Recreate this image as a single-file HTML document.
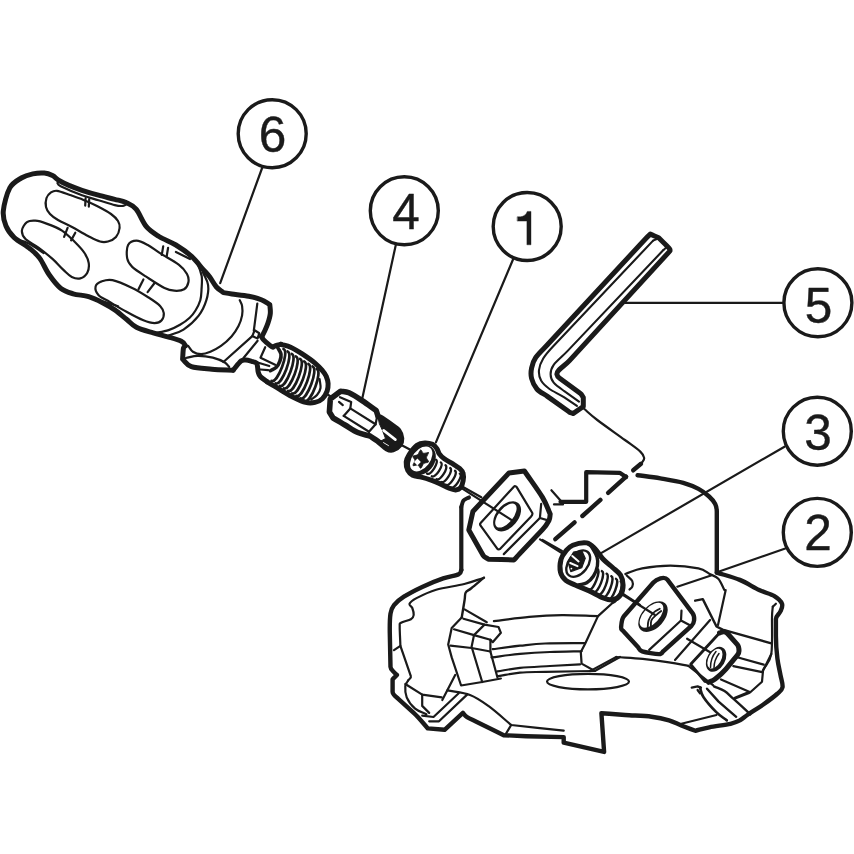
<!DOCTYPE html>
<html><head><meta charset="utf-8"><style>
html,body{margin:0;padding:0;background:#fff;width:854px;height:854px;overflow:hidden}
svg{display:block}
</style></head><body>
<svg width="854" height="854" viewBox="0 0 854 854">
<g fill="none" stroke="#1a1a1a" stroke-linecap="round" stroke-linejoin="round">
<circle cx="272.2" cy="133.7" r="34" stroke-width="3.4"/>
<circle cx="404.3" cy="210.8" r="34" stroke-width="3.4"/>
<circle cx="527.2" cy="226.5" r="34" stroke-width="3.4"/>
<circle cx="817.9" cy="302.8" r="34" stroke-width="3.4"/>
<circle cx="817.3" cy="431.2" r="34" stroke-width="3.4"/>
<circle cx="817.3" cy="532.4" r="34" stroke-width="3.4"/>
<text x="272.6" y="152.4" font-family="Liberation Sans" font-size="49.5" text-anchor="middle" fill="#1a1a1a" stroke="#1a1a1a" stroke-width="0.4">6</text>
<text x="406" y="229.1" font-family="Liberation Sans" font-size="49.5" text-anchor="middle" fill="#1a1a1a" stroke="#1a1a1a" stroke-width="0.4">4</text>
<text x="818.4" y="322.6" font-family="Liberation Sans" font-size="49.5" text-anchor="middle" fill="#1a1a1a" stroke="#1a1a1a" stroke-width="0.4">5</text>
<text x="817.9" y="449.5" font-family="Liberation Sans" font-size="49.5" text-anchor="middle" fill="#1a1a1a" stroke="#1a1a1a" stroke-width="0.4">3</text>
<text x="817.9" y="550.1" font-family="Liberation Sans" font-size="49.5" text-anchor="middle" fill="#1a1a1a" stroke="#1a1a1a" stroke-width="0.4">2</text>
<path d="M517.5,216.8 L520.5,216.8 Q525.5,216.2 527.3,211.4 L531,211.4 L531,244.8 L526.9,244.8 L526.9,221.1 L517.5,221.1 Z" fill="#1a1a1a" stroke="#1a1a1a" stroke-width="0.4"/>
<path d="M262.3,167.5 L220.2,283.2" stroke-width="2.2" fill="none"/>
<path d="M395.9,244.5 L362.2,398.7" stroke-width="2.2" fill="none"/>
<path d="M513,259.5 L435.9,442.4" stroke-width="2.2" fill="none"/>
<path d="M784.1,302.9 L625.4,302.9" stroke-width="2.2" fill="none"/>
<path d="M784.5,446.7 L598.5,554.6" stroke-width="2.2" fill="none"/>
<path d="M786.7,548 L717.7,572" stroke-width="2.2" fill="none"/>
<path d="M233.2,370.2C226.1,369.9 218.9,369.8 211.9,369.2C204.9,368.6 196.3,368.4 191.4,366.7C186.5,365 185.5,361.7 182.6,359.2C182.9,355.5 183,350.3 183.5,348C184,345.7 185.9,346.6 185.5,345.5C185.1,344.4 184.1,342.7 181.3,341.3C178.5,339.9 173.4,338.5 168.7,337.1C164,335.7 158.6,334.5 153.2,332.9C147.8,331.3 140.8,329.6 136.4,327.3C132,325 130.1,322.2 126.5,319.3C122.9,316.4 118.7,312.6 114.8,309.9C110.9,307.2 107.3,305.1 103,302.9C98.7,300.7 93.7,298.1 88.7,296.6C83.7,295.1 77.9,295.2 73.2,293.8C68.5,292.4 64.6,291.4 60.6,288.2C56.6,285 52.7,279.8 49.2,274.8C45.7,269.8 42.9,262.7 39.8,258.4C36.7,254.1 34.7,252.5 30.4,249C26.1,245.5 18.1,241.1 14,237.3C9.9,233.5 7.8,230.4 6,226C4.2,221.6 2.7,217.3 3.3,211C3.9,204.7 6.8,193.4 9.8,187.9C12.8,182.4 17.5,180.3 21.3,178C25.1,175.7 29,174.7 32.8,173.9C36.6,173.1 41,172.8 44.3,173.1C47.6,173.4 50,174.4 52.5,175.6C55,176.8 56.3,178.9 59,180.5C61.7,182.1 65.1,183.8 68.9,185.4C72.7,187 77.1,188.7 82,190.3C86.9,191.9 92.9,193.7 98.4,195.2C103.9,196.7 110.2,198.1 114.8,199.3C119.4,200.5 122.7,200.9 126.2,202.6C129.8,204.2 132.7,205.2 136.1,209.2C139.5,213.2 142.6,222.1 146.4,226.7C150.2,231.2 154.1,233.4 159,236.5C163.9,239.6 170.5,241.7 175.9,245C181.3,248.3 186.9,252.2 191.3,256.2C195.8,260.2 199.6,265.4 202.6,268.8C205.6,272.2 207.3,273.8 209.6,276.8C211.9,279.8 214.1,284.4 216.4,287C218.7,289.6 221.1,290.7 223.4,292.6C226.2,293.1 227.6,293.4 231.8,294C236,294.6 243.8,295.2 248.7,296.2C253.6,297.1 257.8,298.3 261.3,299.7C264.8,301.1 267,303 269.8,304.6C270,307.5 270.6,310.2 270.3,313.4C270,316.6 268.8,320.5 267.8,323.6C266.8,326.7 265.3,329.6 264.3,331.8C263.3,334 262.6,335.1 261.7,336.7" stroke-width="5" fill="none"/>
<path d="M57.4,183C58.5,184.1 56.6,184.2 60.7,186.2C64.8,188.2 75.7,192.9 82,195.2C88.3,197.5 92.9,198.5 98.4,200.2C103.9,201.8 110.7,204.1 114.8,205.1C118.9,206.1 121,206.1 123,205.9C125,205.7 125.7,204.6 127,204" stroke-width="2.2" fill="none"/>
<path d="M175.9,252C180.6,254.3 185.3,256.7 190,259" stroke-width="2.2" fill="none"/>
<path d="M50.7,192.6C52.5,191.4 53.8,190.4 57,190.8C60.2,191.2 65.7,193.5 70,195C74.3,196.5 78.5,197.9 83,199.7C87.5,201.5 92.3,203.6 97,206C101.7,208.4 107.5,211.5 111,214C114.5,216.5 116.6,218.7 118,221C119.4,223.3 119.9,225.3 119.6,228C119.3,230.7 117.9,234.8 116,237C114.1,239.2 110.7,240.8 108,241.5C105.3,242.2 103.3,242.4 100,241.5C96.7,240.6 92.7,238.4 88,236C83.3,233.6 77,229.7 72,227C67,224.3 61.7,222.2 58,220C54.3,217.8 52,216.2 50,214C48,211.8 46.6,209.7 46,207C45.4,204.3 45.7,200.4 46.5,198C47.3,195.6 49,193.8 50.7,192.6Z" stroke-width="2.2" fill="none"/>
<path d="M26.9,222.2C29.1,220.5 32,220.5 35.3,220.7C38.6,220.9 42,221.9 46.5,223.6C51,225.2 57.3,227.6 62,230.6C66.7,233.6 70.8,238.1 74.6,241.8C78.3,245.5 82.2,249.5 84.5,253C86.8,256.5 88.2,259.6 88.7,262.9C89.2,266.2 88.7,270.1 87.3,272.7C85.9,275.3 82.9,277.7 80.3,278.4C77.7,279.1 74.6,278.4 71.8,277C69,275.6 66.7,272.9 63.4,269.9C60.1,266.8 56.4,262.4 52.2,258.7C48,254.9 42.6,250.7 38.1,247.4C33.6,244.1 28.2,241.8 25.5,239C22.8,236.2 21.7,233.4 21.9,230.6C22.1,227.8 24.7,223.8 26.9,222.2Z" stroke-width="2.2" fill="none"/>
<path d="M128.1,245C129.7,242.1 133.2,240.7 136.5,240.7C139.8,240.7 143.8,242.9 147.8,245C151.8,247.1 155.2,250.1 160.4,253.4C165.6,256.7 174.3,261.2 178.7,264.6C183.1,268 185.4,270.9 187,273.9C188.6,276.8 188.9,279.7 188.4,282.3C187.9,284.9 186.4,287.9 184.1,289.3C181.8,290.7 177.6,290.9 174.3,290.7C171,290.5 169.2,290.3 164.5,288C159.8,285.7 151.6,280.2 146.2,276.7C140.8,273.2 135.4,269.9 132.2,266.9C129,263.8 127.9,262 127.2,258.4C126.5,254.7 126.5,247.9 128.1,245Z" stroke-width="2.2" fill="none"/>
<path d="M95.6,286.5C96.1,284.3 98.4,282.7 101.2,281.6C104,280.6 107.3,279.1 112.5,280.2C117.7,281.3 126.1,285.1 132.2,288C138.3,290.9 144.3,294.8 149,297.8C153.7,300.8 157.8,303.6 160.3,306.2C162.8,308.8 163.6,310.8 163.8,313.2C164,315.6 163.2,318.6 161.7,320.3C160.2,322 157.6,323.1 154.6,323.1C151.6,323.1 148.1,322.2 143.4,320.3C138.7,318.4 132.1,314.9 126.5,311.8C120.9,308.8 114.4,304.8 109.7,302C105,299.2 100.8,297.6 98.4,295C96.1,292.4 95.1,288.7 95.6,286.5Z" stroke-width="2.2" fill="none"/>
<path d="M67.6,227.8 L64.1,236.9" stroke-width="2.2" fill="none"/>
<path d="M75.3,232.7 L71.1,240.4" stroke-width="2.2" fill="none"/>
<path d="M85.6,198.2 L85.2,205.6" stroke-width="2.2" fill="none"/>
<path d="M89.2,199.2 L88.8,206.6" stroke-width="2.2" fill="none"/>
<path d="M163.2,246.4 L161.8,254.8" stroke-width="2.2" fill="none"/>
<path d="M168.1,247.8 L166.7,256.2" stroke-width="2.2" fill="none"/>
<path d="M143.4,279.5 L138.5,289.3" stroke-width="2.2" fill="none"/>
<path d="M154.6,283 L147.6,292.2" stroke-width="2.2" fill="none"/>
<path d="M192,257C193.7,259 195.4,259.8 197,263C198.6,266.2 200.9,271.5 201.7,276C202.4,280.5 201.7,285.9 201.5,290C201.3,294.1 201.3,296.9 200.3,300.3C199.3,303.7 197.3,307.6 195.5,310.5C193.7,313.4 192.3,315.4 189.7,317.8C187.1,320.2 183.5,322.8 180,324.8C176.5,326.9 173.1,328.6 168.6,330.1C164.1,331.6 158.1,332.4 152.8,333.6" stroke-width="2.2" fill="none"/>
<path d="M203,272.5C204.7,276.7 207.5,280.5 208.1,285.1C208.7,289.8 207.9,295.3 206.3,300.4C204.7,305.5 202.5,310.7 198.7,315.6C194.9,320.5 188.5,326.3 183.5,329.6C178.5,332.9 173.6,333.5 168.7,335.5" stroke-width="2.2" fill="none"/>
<path d="M14,239C18.8,240.4 23.4,240.9 28.3,243.2C33.2,245.5 38.6,249.7 43.7,253" stroke-width="2.2" fill="none"/>
<path d="M92,298C96.3,299.3 100.7,300.6 105,302C109.3,303.4 113.7,304.8 118.1,306.2" stroke-width="2.2" fill="none"/>
<path d="M239.7,300.2C240.5,302.2 241.7,303.6 242.1,306.1C242.5,308.6 242.7,312.1 242.1,315.4C241.5,318.7 240.3,322.5 238.5,326C236.7,329.5 234.4,333.2 231.5,336.5C228.6,339.8 224.5,343.4 221,345.9C217.5,348.4 213.7,350.3 210.4,351.7C207.1,353.1 204,354.1 201.1,354.1C198.2,354.1 195.1,353.1 192.9,351.7C190.8,350.3 189.8,347.8 188.2,345.9" stroke-width="2.2" fill="none"/>
<path d="M257.3,303.7C256.9,306.8 256.7,308.6 256.1,313.1C255.5,317.6 254.6,324.8 253.8,330.7" stroke-width="2.2" fill="none"/>
<path d="M254.6,330.3 L259.3,333.2 L257.6,338.5 L252.3,336.1 L254.6,330.3" stroke-width="2.2" fill="none"/>
<path d="M252.3,336.1 L223.4,362" stroke-width="2.2" fill="none"/>
<path d="M257.6,340.8 L243.5,358" stroke-width="2.2" fill="none"/>
<path d="M185.8,358C189.7,357.3 193.1,355.9 197.6,355.8C202.1,355.7 208.3,356.5 212.8,357.6C217.3,358.7 221.8,360.7 224.5,362.3C227.2,363.9 227.6,365.4 229.2,367" stroke-width="2.2" fill="none"/>
<path d="M233.2,370C235.8,367 238.8,362.8 240.9,361.1C243,359.5 244.1,360.1 245.9,360.1C247.7,360.1 249.9,360.8 251.7,361.3C253.4,361.8 255.4,362.1 256.4,363.1C257.4,364.1 257.3,365.7 257.6,367.2C257.9,368.7 257.7,370.4 258.2,372C258.7,373.6 259,375.2 260.5,376.8C262,378.4 265,380.1 267.2,381.8" stroke-width="5" fill="none"/>
<path d="M261.7,336.7C262.3,337.7 262.1,338.2 263.4,339.6C264.7,341 267.7,343.6 269.3,344.9C270.9,346.2 271.6,346.4 272.8,347.2C273.8,346.7 274.4,346.1 275.8,345.6C277.2,345.1 279.3,344.7 281,344.3" stroke-width="5" fill="none"/>
<path d="M265.2,347.2 L260.5,357.8 L275.1,364.8" stroke-width="2.2" fill="none"/>
<path d="M257.6,362.5 L269.3,366" stroke-width="2.2" fill="none"/>
<path d="M260.5,369.5 L268.1,370.1" stroke-width="2.2" fill="none"/>
<path d="M281,344.3C284.2,345.3 287.1,345.6 290.6,347.2C294.1,348.8 297.7,351 301.8,353.7C305.9,356.4 311.6,360.3 315,363.1C318.4,365.9 320.5,368.4 322.4,370.6C324.3,372.8 325.2,374 326.2,376.2C327.1,378.4 328,381.2 328.1,383.7C328.2,386.2 328.1,388.7 327.1,391.2C326.2,393.7 324.4,396.8 322.4,398.7C320.4,400.6 317.8,401.8 315,402.4C312.2,403 309.1,403.2 305.6,402.4C302.2,401.6 298.4,399.8 294.3,397.8C290.2,395.8 285.7,393 281.2,390.3C276.7,387.6 271.9,384.6 267.2,381.8" stroke-width="5" fill="none"/>
<path d="M277.5,347.2C278.7,349.6 280.6,351.9 281,354.3C281.4,356.7 280.6,359.2 279.8,361.3C279,363.4 277.9,365.6 276.3,367.2C274.7,368.8 272.4,369.5 270.4,370.7" stroke-width="3.6" fill="none"/>
<path d="M283.5,349 C289.7,351.3 277.7,383.3 271.5,381" stroke-width="2.7"/>
<path d="M287.6,351.5 C293.9,353.8 281.9,385.8 275.6,383.5" stroke-width="2.7"/>
<path d="M291.8,354 C298,356.3 286,388.3 279.8,386" stroke-width="2.7"/>
<path d="M295.9,356.5 C302.2,358.8 290.2,390.8 283.9,388.5" stroke-width="2.7"/>
<path d="M300.1,359 C306.3,361.3 294.3,393.3 288.1,391" stroke-width="2.7"/>
<path d="M304.2,361.5 C310.5,363.8 298.5,395.8 292.2,393.5" stroke-width="2.7"/>
<path d="M308.4,364 C314.6,366.3 302.6,398.3 296.4,396" stroke-width="2.7"/>
<path d="M312.6,366.5 C318.8,368.8 306.8,400.8 300.6,398.5" stroke-width="2.7"/>
<path d="M316.7,369 C322.9,371.3 310.9,403.3 304.7,401" stroke-width="2.7"/>
<path d="M319.6,379C319.9,382 320.9,385.3 320.5,388C320.1,390.7 318.6,393.1 317,395C315.4,396.9 313.1,398.1 311.2,399.6" stroke-width="2.2" fill="none"/>
<path d="M327.5,394.5 L331.5,397" stroke-width="2.2" fill="none"/>
<path d="M340.6,391.2C343.4,391.7 345.4,391.2 349,392.8C352.6,394.4 358,397.9 362.5,400.9C367,403.8 371.6,407.3 376.2,410.5C376.8,412.4 377.4,414.3 378,416.2C379.8,417.2 381.4,417.9 383.5,419.3C385.6,420.7 388.1,422.4 390.6,424.3C393.1,426.2 396.7,428.1 398.5,430.5C400.3,432.9 401.3,436 401.5,438.4C401.7,440.8 400.9,443.1 399.5,445C398.1,446.9 395.1,449 393,449.6C390.9,450.2 389.6,450.1 387,448.7C384.4,447.3 380.3,443.1 377.5,441C374.7,438.9 372.5,437.7 370,436C365.9,434.8 362,434.3 357.8,432.5C353.6,430.7 349.1,427.4 345,425C340.9,422.6 337.1,420.3 333.1,418L329.4,412L330.3,399L340.6,391.2Z" stroke-width="5.6" fill="none"/>
<path d="M340,397.2 L351.2,401.9 L350.3,408.4 L343.7,415.9" stroke-width="2.2" fill="none"/>
<path d="M339,401.9 L342.8,405.1" stroke-width="2.2" fill="none"/>
<path d="M350.3,408.4 L375.6,424.3" stroke-width="2.2" fill="none"/>
<path d="M343.7,415.9 L369,431.8" stroke-width="2.2" fill="none"/>
<path d="M376.5,412.2 L376.8,418 L375.6,424.3 L369,431.8" stroke-width="2.2" fill="none"/>
<path d="M378,416 L386.3,421.4 L398,429.6 L402.2,435.4 L402.2,441.3 L398,447.2 L390.4,450.7 L384.6,447.2 L378,442.5 L385.5,438.5 L382.5,430.5 L379.5,424Z" stroke-width="1" fill="#1a1a1a"/>
<path d="M383.6,430.4 L395.4,439.6" stroke="#fff" stroke-width="2.6"/>
<path d="M383.5,442.6 L388.5,445.6" stroke="#fff" stroke-width="0.9"/>
<path d="M401.8,445.3 L411.3,450.3" stroke-width="2.2" fill="none"/>
<path d="M417,445.2C419.6,443.3 422.2,443 424.8,442.9C427.4,442.8 430.5,443.4 432.5,444.3C434.5,445.2 435.8,447 436.9,448.6C438,450.2 438.1,452.2 439.3,453.9C440.5,455.6 442.1,457.2 444.3,458.8C446.5,460.4 449.9,462.1 452.5,463.7C455.1,465.3 458,467 459.8,468.6C461.6,470.2 462.6,471.4 463.1,473.5C463.7,475.6 463.5,478.6 463.1,480.9C462.7,483.2 461.9,486 460.7,487.5C459.5,489 457.6,489.8 455.7,489.9C453.8,490 451.9,489.4 449.2,488.3C446.5,487.2 442.3,484.8 439.3,483.4C436.3,482 434.1,481.1 431.1,480.1C428.1,479.1 424.4,478 421.3,477.2C418.2,476.4 414.9,476.3 412.6,475.2C410.4,474.1 408.9,472.7 407.8,470.5C406.7,468.3 406,464.7 406.2,462C406.4,459.3 407.4,457.3 409.2,454.5C411,451.7 414.4,447.1 417,445.2Z" stroke-width="5" fill="none"/>
<ellipse cx="421" cy="459.8" rx="16.6" ry="13.4" transform="rotate(-50 421 459.8)" fill="#1a1a1a" stroke="none"/>
<ellipse cx="421.2" cy="458.9" rx="14.2" ry="8.9" transform="rotate(-52 421.2 458.9)" fill="#fff" stroke="none"/>
<path d="M428.4,452.6C428.9,453.4 426.5,456.2 426.5,457.7C426.5,459.3 429,460.9 428.5,461.9C428.1,462.8 425,462.5 423.7,463.6C422.4,464.7 421.8,468.1 420.8,468.3C419.8,468.6 419.2,465.4 417.9,465C416.5,464.5 413.5,466.3 413,465.6C412.5,464.8 414.9,462 414.9,460.5C414.9,458.9 412.4,457.3 412.9,456.3C413.3,455.4 416.4,455.7 417.7,454.6C419,453.5 419.6,450.1 420.6,449.9C421.6,449.6 422.2,452.8 423.5,453.2C424.9,453.7 427.9,451.9 428.4,452.6Z" stroke-width="0.8" fill="#1a1a1a"/>
<path d="M414,462 L417.4,458.5 L420.9,462 L417.4,465.5 Z" fill="#fff" stroke="none"/>
<path d="M436,459.6 C439.6,461.9 430.6,475.8 427,473.5" stroke-width="2.3"/>
<path d="M440.8,462.4 C444.3,464.7 435.3,478.6 431.8,476.3" stroke-width="2.3"/>
<path d="M445.5,465.2 C449.1,467.5 440.1,481.4 436.5,479.1" stroke-width="2.3"/>
<path d="M450.2,468 C453.8,470.3 444.8,484.2 441.2,481.9" stroke-width="2.3"/>
<path d="M455,470.8 C458.6,473.1 449.6,487 446,484.7" stroke-width="2.3"/>
<path d="M459.8,473.6 C463.3,475.9 454.3,489.8 450.8,487.5" stroke-width="2.3"/>
<path d="M462.6,486.7 L481.3,497.3" stroke-width="2.2" fill="none"/>
<path d="M650.3,234.1C648.7,235.6 647.1,237.1 645.6,238.7L547.4,344.8C543.5,349 538.4,353.5 535.8,357.4C533.2,361.2 532.3,364.4 531.6,367.9C530.9,371.4 530.7,375 531.6,378.5C532.5,382 534.3,386 536.9,389C539.5,392 543.9,393.9 547.4,396.4L569,411.8C570.2,412.6 571.7,413 573,413.6L583.3,406.5L583.3,397.5C582.4,396.2 581.8,394.5 580.5,393.6L560,378.5C558.6,377.5 557.1,375.7 556.9,374.3C556.7,372.9 556.9,372.3 559,370C561.1,367.7 566.3,364.1 569.5,360.6L670,250.9C669.7,250 670.9,250.3 669,248.1C667.1,245.9 662.1,241.2 658.7,237.8C655.9,236.6 653.1,235.3 650.3,234.1Z" stroke-width="5" fill="none"/>
<path d="M653.1,240.6L553.7,345.8C549.9,349.8 545.7,354.5 543.2,358.5C540.8,362.5 539.4,366.3 539,370C538.6,373.7 539.4,377.4 541.1,380.6C542.9,383.8 545.6,386.2 549.5,389C553.4,391.8 559.6,394.2 564.3,397.4L576.9,405.9" stroke-width="2.1" fill="none"/>
<path d="M663.4,250L567.4,351.1C563,355.8 556.5,360.9 553.7,364.8C550.9,368.7 550.6,371.3 550.6,374.3C550.6,377.3 551.4,379.9 553.7,382.7C556,385.5 560.6,388.5 564.3,391.1L579,401.7" stroke-width="2.1" fill="none"/>
<path d="M653.1,240.6 L658,238.5" stroke-width="2.1" fill="none"/>
<path d="M663.4,250 L667,247" stroke-width="2.1" fill="none"/>
<path d="M468.8,530C470.2,523.8 471.5,517.7 472.9,511.5L509,472.9C514.1,472.3 519.3,471.6 524.4,471C530.4,479.8 538.2,490.2 542.5,497.4C546.8,504.6 547.6,508.5 550.2,514.1C549.8,516.3 550.2,518 548.9,520.6C547.6,523.2 545,526.9 542.5,529.6L519.3,554.1C517.5,556 515.8,558 514.1,559.9C505.5,559.7 497,559.4 488.4,559.2C486.7,557.9 484.3,557.3 483.2,555.4L468.8,530Z" stroke-width="5" fill="none"/>
<path d="M480.6,523.1L514.1,486.4C514.7,485.7 516.2,486.3 516.7,487.1L532.2,512.8C532.9,514 531.8,515.7 530.9,516.7L500,548.9C499.4,549.5 497.9,549.6 497.4,548.9L480.6,525.7C480.1,525 480,523.7 480.6,523.1Z" stroke-width="2.2" fill="none"/>
<path d="M541.2,503.8 L539.9,518 L548.9,520.6" stroke-width="2.2" fill="none"/>
<path d="M539.9,518 L503.8,554.1" stroke-width="2.2" fill="none"/>
<ellipse cx="507.1" cy="516.3" rx="17.4" ry="11" transform="rotate(-50.4 507.1 516.3)" fill="#1a1a1a" stroke="none"/>
<ellipse cx="505.9" cy="515.6" rx="14.4" ry="7.1" transform="rotate(-50.4 505.9 515.6)" fill="#fff" stroke="none"/>
<path d="M460,487.1 L513.4,521.2" stroke-width="2.2" fill="none"/>
<path d="M542.5,539.9 L562,551" stroke-width="2.2" fill="none"/>
<path d="M469,497.4C467.2,498.4 464.8,498.9 463.5,500.5C462.2,502.1 462,504.8 461.3,507" stroke-width="4" fill="none"/>
<path d="M461.3,507 L461.3,570.1" stroke-width="4.2" fill="none"/>
<path d="M583.2,408C587.9,412 590.3,414.7 597.3,420C604.2,425.3 617.7,434.7 624.9,440C632.1,445.3 637.1,448.6 640.3,451.6C643.5,454.6 644,456.1 644.2,458C644.4,459.9 642.5,461.5 641.6,463.2" stroke-width="2.2" fill="none"/>
<path d="M641,463.8 L633.2,470.3" stroke-width="4.4" fill="none"/>
<path d="M626.1,476.7 L608.1,492.8" stroke-width="4.4" fill="none"/>
<path d="M600.4,499.9 L582.4,516" stroke-width="4.4" fill="none"/>
<path d="M574.6,522.4 L555.3,539.2" stroke-width="4.4" fill="none"/>
<path d="M626.1,477 L619.7,472.8 L586.2,472.2 L586.2,501.8 L560.5,501.8" stroke-width="4.2" fill="none"/>
<path d="M551.4,490.2 L560.5,500.5" stroke-width="2.2" fill="none"/>
<path d="M554,504.4 L563,504.4" stroke-width="2.2" fill="none"/>
<path d="M637.6,475.2C645.2,476.2 652.8,477 660.4,478.3C668,479.6 676.9,481 683.3,482.8C689.6,484.6 694.2,486.6 698.5,488.9C702.8,491.2 706.3,494 709.1,496.5C711.9,499 713.9,501.6 715.2,504.1C716.5,506.7 716.8,509.2 716.8,511.8L716.8,572.6" stroke-width="4.4" fill="none"/>
<path d="M572.8,545.2C576.3,543.8 583.1,542.3 586.8,542.9C590.5,543.5 592.3,546 595,548.7C597.7,551.4 600.3,556.2 603.2,559.3C606.1,562.4 609.7,564.9 612.6,567.5C615.5,570.1 618.8,572.1 620.5,575C622.2,577.9 623.1,581.8 623.1,585C623.1,588.2 622.5,592 620.8,594.5C619.1,597 615.9,599.2 613,599.8C610.1,600.4 607.2,599.4 603.2,597.9C599.2,596.4 593.9,593 589.2,590.9C584.5,588.8 579,586.8 575.1,585C571.2,583.2 568.2,582.4 565.8,580.3C563.4,578.2 561.3,575.7 560.5,572.2C559.7,568.7 560.1,562.8 561,559.3C561.9,555.8 563.8,553.5 565.8,551.1C567.8,548.8 569.3,546.6 572.8,545.2Z" stroke-width="5" fill="none"/>
<path d="M591,545.8C593,549.5 595.9,553.6 597,557C598.1,560.4 598,562.8 597.4,566C596.8,569.2 595.3,573.2 593.5,576C591.7,578.8 589.3,581.2 586.8,582.7C584.3,584.2 581.3,584.2 578.6,585" stroke-width="3.4" fill="none"/>
<ellipse cx="578.2" cy="563.6" rx="15" ry="9.6" transform="rotate(-52 578.2 563.6)" stroke-width="2.4"/>
<path d="M573.6,552 L581.7,550.6 L585.2,558.3 L581.7,567.8 L570.8,571.6 L568,561.8 Z" fill="#1a1a1a" stroke-width="1.2"/>
<path d="M572.3,556 L578.6,561.4 M570.2,563 L577.5,566.2" stroke="#fff" stroke-width="2"/>
<circle cx="571.4" cy="568.6" r="0.9" fill="#fff" stroke="none"/>
<path d="M597.2,568.6 C601.4,570.2 593.4,591.2 589.2,589.6" stroke-width="2.4"/>
<path d="M601.9,571.1 C606.1,572.8 598.1,593.8 593.9,592.1" stroke-width="2.4"/>
<path d="M606.6,573.7 C610.8,575.3 602.8,596.3 598.6,594.7" stroke-width="2.4"/>
<path d="M611.3,576.2 C615.5,577.9 607.5,598.9 603.3,597.2" stroke-width="2.4"/>
<path d="M616,578.8 C620.2,580.4 612.2,601.4 608,599.8" stroke-width="2.4"/>
<path d="M620.7,581.4 C624.9,583 616.9,604 612.7,602.4" stroke-width="2.4"/>
<path d="M540,539.4 L562.2,553.4" stroke-width="2.2" fill="none"/>
<path d="M622,593.2 L640,605" stroke-width="2.2" fill="none"/>
<path d="M621.1,627.4C621.3,625 621.4,619.1 623.9,616.2L653.4,582.5C656.5,578.9 664.5,575.9 667.4,579.7L692.7,613.4C694.1,615.3 694.3,618.3 694.1,620.4C693.9,622.5 692.9,624.6 691.3,626L663.2,651.3C661.9,652.4 662.5,654.1 659,654.1C655.5,654.1 645.7,652.5 642.2,651.3C638.7,650.1 639.3,648.6 637.9,647.1L622.5,630.3C621.8,629.5 620.9,629.8 621.1,627.4Z" stroke-width="4.4" fill="none"/>
<path d="M681.5,610.6 L681,620.5 L691.3,626" stroke-width="2.2" fill="none"/>
<path d="M681,620.5 L649.2,649.9" stroke-width="2.2" fill="none"/>
<ellipse cx="653" cy="616.6" rx="18" ry="11.2" transform="rotate(-47.6 653 616.6)" fill="#1a1a1a" stroke="none"/>
<ellipse cx="651.5" cy="615.3" rx="15.2" ry="8" transform="rotate(-47.6 651.5 615.3)" fill="#fff" stroke="none"/>
<path d="M647.6,629.8C647.9,626.7 647.6,623.3 648.6,620.4C649.6,617.5 651.8,614.5 653.7,612.5C655.6,610.5 657.8,610 659.8,608.7" stroke-width="1.8" fill="none"/>
<path d="M651,629.3C651.1,626.3 650.4,622.9 651.4,620.4C652.4,617.9 655.4,615.9 657,614.3C658.6,612.7 659.8,612.1 661.2,611" stroke-width="1.8" fill="none"/>
<path d="M621.1,593.7 L654.7,614.8" stroke-width="2.2" fill="none"/>
<path d="M687.1,638.7 L711,652.7" stroke-width="2.2" fill="none"/>
<path d="M719.5,633C720.8,632.6 722.2,631.7 723.5,631.8C724.8,631.9 726.5,632.4 727.5,633.5L737.4,644.6C738.9,646.3 739,649.3 739,651.1C739,652.9 738.3,654.1 737.4,655.2L725.9,669.2C722.8,672.9 718.1,676.8 715.2,679C712.3,681.2 710.9,681.2 708.7,682.3" stroke-width="5" fill="none"/>
<path d="M719.5,633 L690.7,664.3 L705,681.5 L708.7,682.3" stroke-width="2.8" fill="none"/>
<ellipse cx="716.1" cy="659.3" rx="13.4" ry="9" transform="rotate(-60 716.1 659.3)" fill="#1a1a1a" stroke="none"/>
<ellipse cx="714.9" cy="658.6" rx="10.8" ry="6.2" transform="rotate(-60 714.9 658.6)" fill="#fff" stroke="none"/>
<path d="M710.5,667.5 Q710.5,658 716,651.5 M714,668 Q714,660 719,653.5" stroke-width="1.5"/>
<path d="M461.3,570.1C460.4,571.5 461.7,572.8 458.7,574.2C455.7,575.6 449.3,576.3 443.2,578.4C437.1,580.5 428.8,583.8 422.2,586.9C415.6,590 408.6,593.7 403.9,596.7C399.2,599.7 396.2,602.3 394,605.1C391.8,607.9 391.2,608.9 390.5,613.6C389.8,618.3 389.7,626.7 389.8,633.2L390.5,667C390.5,669.1 392.9,670.9 394,672.2C395.1,673.5 395.9,674.1 396.9,675C395.5,676.4 394,677.8 392.6,679.2L392.6,691.8C392.6,694.8 396.1,696.8 398.3,698.8L413.7,712.9C418.9,717.6 423.1,723.2 427.8,728.4L444.6,729.8L462.9,712.9C464.3,714.3 464.5,715.5 467.1,717.1C469.7,718.7 472.3,719.7 478.4,722.7C484.5,725.7 495.3,731 503.7,735.2L526.2,736.2L563.7,737.1L563.7,742.7L604.1,751.9L601.4,713.2C609.3,713.8 616.8,714.4 625.1,715C633.5,715.6 644.2,715.8 651.5,716.7C658.8,717.6 664,718.8 669,720.3C674,721.8 676.9,723.8 681.3,725.5C685.7,727.2 690.7,729 695.4,730.8C700.1,729.6 703.5,728.5 709.4,727.3C715.2,726.1 725.4,725 730.5,723.8C735.6,722.6 737.1,721.8 740,720.3C742.9,718.8 744,717.2 748,714.5C752,711.8 759.2,707.4 764,704C768.8,700.6 773.9,696.8 777,694C780.1,691.2 781.9,690.5 782.5,687.4C783.1,684.3 781.4,680 780.5,675.2C779.6,670.4 778.2,665.1 777.4,658.5C776.6,651.9 775.9,643.3 775.9,635.7L775.9,618.9C775.9,615.9 779.5,613.8 780.5,611.3C781.5,608.8 783,606.2 782,603.7C781,601.2 778.2,598.4 774.4,596.1C770.6,593.8 764.9,592.7 759.1,590C753.3,587.3 746.8,582.8 739.8,579.9C732.8,577 724.5,575 716.8,572.6" stroke-width="4.4" fill="none"/>
<path d="M772.8,606.7 L775.9,603.7" stroke-width="2.2" fill="none"/>
<path d="M772.8,606.7C772.5,610.3 772.2,609.5 772,617.4C771.8,625.3 772.7,645.3 771.3,653.9C769.9,662.5 766.2,664 763.7,669.1" stroke-width="2.2" fill="none"/>
<path d="M484,577.7C477.4,579.8 472.3,582 464.3,584C456.3,586 444.2,587.4 436.2,589.7C428.2,592.1 420.9,595.8 416.5,598.1C412.1,600.4 410.2,602.1 409.5,603.7C408.8,605.4 411.6,606.1 412.3,608C413,609.9 413.9,613.1 413.7,615C413.5,616.9 413,617.9 410.9,619.2C408.8,620.5 403,621.5 401.1,622.7C399.2,623.9 399.8,622.3 399.7,626.2C399.6,630.1 400.2,639.3 400.4,645.9L410.9,676.4C411.5,678 409,679.2 408,680.6" stroke-width="2.2" fill="none"/>
<path d="M394,650.1 L400.4,645.9" stroke-width="2.2" fill="none"/>
<path d="M484,577.7C479.8,581.2 474.4,585.8 471.3,588.3C468.2,590.8 466.8,590.5 465.7,592.5C464.6,594.5 465.3,595.8 464.6,600C463.9,604.2 462.7,611.7 461.7,617.6" stroke-width="2.4" fill="none"/>
<path d="M408,680.6C407.1,682.5 405.5,683.4 405.3,686.2C405.1,689 405.1,693.6 406.7,697.4C408.3,701.1 411.8,705.9 415.1,708.7C418.4,711.5 422.6,712.4 426.4,714.3" stroke-width="2.2" fill="none"/>
<path d="M405.3,684 L422.2,694.6 L441.8,697.4" stroke-width="2.2" fill="none"/>
<path d="M422.2,694.6 L422.2,705.9 L429.2,712.9" stroke-width="2.2" fill="none"/>
<path d="M422.2,715.7 L433.5,717 L458.7,693.2" stroke-width="2.2" fill="none"/>
<path d="M429.2,721.3 L439,721.3 L467.1,694.6" stroke-width="2.2" fill="none"/>
<path d="M447.4,690.4C454.9,691.9 463.1,692.4 470,695C476.9,697.6 481.8,701.2 488.7,706.2C495.6,711.2 503.7,718.7 511.2,725C528.7,726.9 546.2,728.7 563.7,730.6" stroke-width="2.2" fill="none"/>
<path d="M511.2,725 L505.6,734.3" stroke-width="2.2" fill="none"/>
<path d="M455.2,675 L442.3,700" stroke-width="2.2" fill="none"/>
<path d="M461.7,617.6 L451.7,628.1 L448.2,644.5 L451.7,657.4 L461.1,685.5 L482.2,682 L500.9,678.5" stroke-width="2.2" fill="none"/>
<path d="M464.6,609.4 L486.8,622.2" stroke-width="2.2" fill="none"/>
<path d="M463.4,618.7 L484.5,624.6 L498.5,627 L500.9,632.8 L492.7,642.2 L490.4,639.8" stroke-width="2.2" fill="none"/>
<path d="M454,629.3 L474,635.1 L490.4,639.8" stroke-width="2.2" fill="none"/>
<path d="M474,635.1 L484.5,624.6" stroke-width="2.2" fill="none"/>
<path d="M474,635.1 L471.6,646.8 L482.2,682" stroke-width="2.2" fill="none"/>
<path d="M450.5,645.7 L471.6,648 L490.4,651.5" stroke-width="2.2" fill="none"/>
<path d="M490.4,639.8 L490.4,651.5 L497.4,677.3" stroke-width="2.2" fill="none"/>
<path d="M493.9,621.1C505.7,619.7 517.9,617.9 529.2,616.9C540.6,615.9 550.5,615.3 562,615.2C573.5,615.1 586,615.8 598,616.1" stroke-width="2.2" fill="none"/>
<path d="M492.7,649.2C501.8,648 511.3,646.7 520,645.7C528.7,644.8 534.2,643.9 545,643.5C555.8,643.1 571.7,643.2 585,643.1" stroke-width="2.2" fill="none"/>
<path d="M491.5,657.4C501,656.2 510.2,654.8 520,653.9C529.8,653 539.7,652.4 550,652C560.3,651.6 571.1,651.5 581.6,651.3" stroke-width="2.2" fill="none"/>
<path d="M497.4,671.4C504.9,670.2 511.2,668.8 520,667.9C528.8,667 540,666.6 550,666C560,665.4 570,664.9 580,664.4" stroke-width="2.2" fill="none"/>
<path d="M498.5,676.1C505.7,674.9 512.1,673.3 520,672.6C527.9,671.9 533.1,672.1 545.6,671.8C558.1,671.5 578.4,671.3 594.8,671" stroke-width="2.2" fill="none"/>
<path d="M614.4,601.3 L598,616.1 L585,644 L580.8,652.1 L581.6,663.6 L594.8,671 L620,657" stroke-width="2.2" fill="none"/>
<ellipse cx="588" cy="681.6" rx="41" ry="7.8" stroke-width="2.2"/>
<path d="M625.3,574C630.9,572.1 634.7,569.8 642.2,568.4C649.7,567 660.9,565.6 670.3,565.6C679.7,565.6 691.8,567 698.4,568.4C705,569.8 706.3,572.3 709.6,574C712.9,575.7 715.8,576 718.3,578.7C720.8,581.4 722.4,586.2 724.4,590" stroke-width="2.2" fill="none"/>
<path d="M626.7,575.5C628.6,577.4 631.4,579.2 632.3,581.1C633.2,583 632.8,585.3 632.3,586.7C631.8,588.1 630.4,588.6 629.5,589.5" stroke-width="2.2" fill="none"/>
<path d="M677.3,586.7 L711,575.5" stroke-width="2.2" fill="none"/>
<path d="M725.7,590 L718,625" stroke-width="2.2" fill="none"/>
<path d="M695.2,600.7 L702.8,599.1 L716.5,626.5 L722.6,629.6 L771.3,643.3" stroke-width="2.4" fill="none"/>
<path d="M710.1,620 L675,660" stroke-width="2.2" fill="none"/>
<path d="M736.3,657 L763.7,664.6" stroke-width="2.2" fill="none"/>
<path d="M733.3,666.1 L762.2,672.2 L771.3,653.9" stroke-width="2.2" fill="none"/>
<path d="M616.3,657C625.1,657.6 633.9,657.9 642.7,658.8C651.5,659.7 661.4,661.1 669,662.3C676.6,663.5 681.9,664.6 688.4,665.8" stroke-width="2.2" fill="none"/>
<path d="M590,671.1 L616.3,657" stroke-width="2.2" fill="none"/>
<path d="M688.4,665.8 L713,685.1" stroke-width="2.2" fill="none"/>
<path d="M691.7,687.6 L697.6,686.4 L701,687.6" stroke-width="2.2" fill="none"/>
<path d="M697.6,690 L700,693.4" stroke-width="2.2" fill="none"/>
<path d="M700,687.5C701.1,690.7 700.7,692.9 703.4,697C706.1,701.1 712.4,708.3 716.3,712.2C720.2,716.1 723.3,717.7 726.8,720.4" stroke-width="2.6" fill="none"/>
<path d="M707,688.7 L718.6,701.6 L736.2,716.8" stroke-width="2.4" fill="none"/>
<path d="M714,686.4C717.5,688 721.4,689.1 724.5,691.1C727.6,693.1 729.2,695 732.7,698.1C736.2,701.2 742.7,707.1 745.6,709.8C748.5,712.5 748.7,712.9 750.3,714.5" stroke-width="2.4" fill="none"/>
<path d="M721,679.4 L750.3,692.2 L762,681.7 L763.1,670" stroke-width="2.2" fill="none"/>
<path d="M735,698.1 L749,692.5" stroke-width="3" fill="none"/>
<path d="M681.3,723.8 L716.5,715" stroke-width="2.2" fill="none"/>
</g>
</svg>
</body></html>
